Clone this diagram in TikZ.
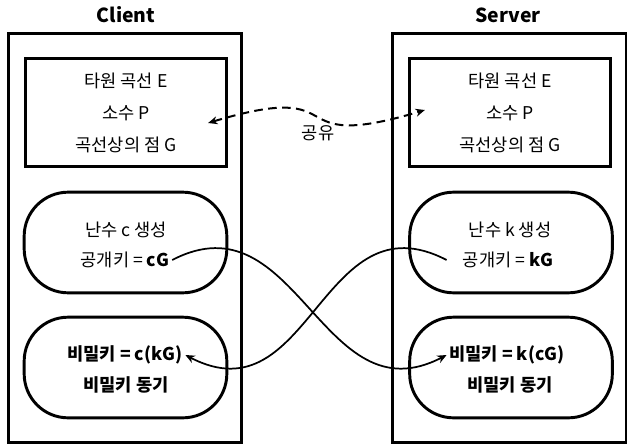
\documentclass[tikz,border=0pt]{standalone}
\usepackage{fontspec}
\setmainfont{Noto Sans CJK KR}
\usetikzlibrary{arrows.meta, positioning, calc}

\begin{document}
\begin{tikzpicture}[
    x=0.75pt, y=-0.75pt,
    panel/.style={draw, line width=2.2pt, minimum width=175pt, minimum height=307pt},
    title/.style={font=\fontsize{14.5}{16}\selectfont\bfseries},
    param/.style={draw, line width=2.2pt, minimum width=151pt, minimum height=81.5pt, align=center, font=\fontsize{13.2}{24}\selectfont},
    pill/.style={draw, line width=2.2pt, minimum width=152pt, minimum height=75.5pt, rounded corners=33pt},
    txt/.style={font=\fontsize{13.2}{15}\selectfont, inner sep=2pt},
    exch/.style={line width=1.3pt, -{Stealth[length=7pt,width=6pt]}},
    share/.style={line width=1.5pt, dash pattern=on 6.5pt off 4pt, {Stealth[length=7pt,width=6pt]}-{Stealth[length=7pt,width=6pt]}}
]
    \useasboundingbox (0,0) rectangle (627,446);

    % Client side
    \node[title] (ctitle) at (126,15) {Client};
    \node[panel] (client) at (125,238) {};
    \node[param] (cparam) at (126,112.5) {타원 곡선 E\\소수 P\\곡선상의 점 G};
    \node[pill] (cgen) at (125.5,242.5) {};
    \node[txt] (cnum) at (126,230) {난수 c 생성};
    \node[txt] (cpub) at (125,260) {공개키 = \textbf{cG}};
    \node[pill] (ckey) at (125.5,367.5) {};
    \node[txt] (csec) at (125,355) {\textbf{비밀키 = c(kG)}};
    \node[txt] (csync) at (126,385) {\textbf{비밀키 동기}};

    % Server side
    \node[title] (stitle) at (508,15) {Server};
    \node[panel] (server) at (509.5,238) {};
    \node[param] (sparam) at (510,112.5) {타원 곡선 E\\소수 P\\곡선상의 점 G};
    \node[pill] (sgen) at (511,242.5) {};
    \node[txt] (snum) at (510,230) {난수 k 생성};
    \node[txt] (spub) at (508,260) {공개키 = \textbf{kG}};
    \node[pill] (skey) at (511,367.5) {};
    \node[txt] (ssec) at (507,355) {\textbf{비밀키 = k(cG)}};
    \node[txt] (ssync) at (510,385) {\textbf{비밀키 동기}};

    % shared curve parameters
    \coordinate (cshare) at ($(cparam.east)+(-20,10.5)$);
    \coordinate (sshare) at ($(sparam.west)+(17,-2.5)$);
    \draw[share] (cshare) .. controls +(150,-45) and +(-150,45) .. (sshare);
    \node[txt] (sharelbl) at (318,133) {공유};

    % public key exchange
    \draw[exch] (cpub.east) .. controls +(125,-65) and +(-125,65) .. (ssec.west);
    \draw[exch] ([xshift=-10pt]spub.west) .. controls +(-125,-65) and +(125,65) .. (csec.east);
\end{tikzpicture}
\end{document}
